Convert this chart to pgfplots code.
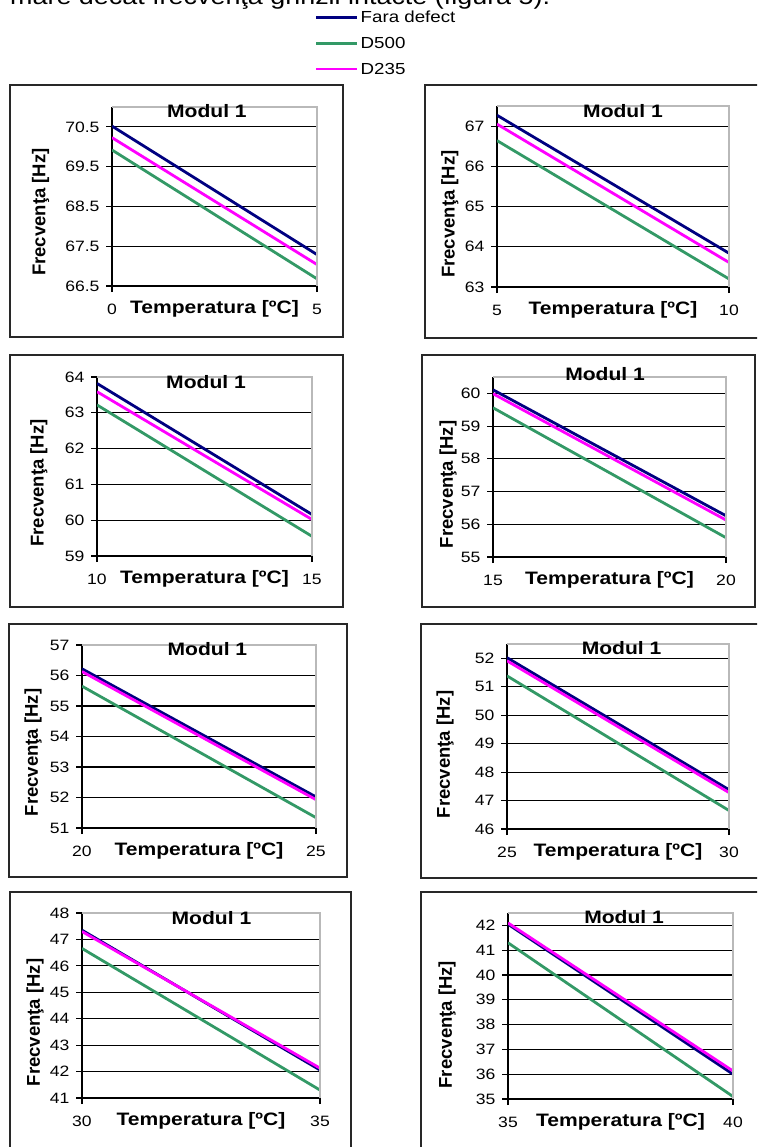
\documentclass[border=0pt]{standalone}
\usepackage{fontspec}
\setmainfont{Liberation Sans}[FakeStretch=1.17]
\newfontfamily\vfont{Liberation Sans}
\usepackage{pgfplots}
\pgfplotsset{compat=1.18}
\definecolor{navyc}{RGB}{0,0,128}
\definecolor{greenc}{RGB}{51,153,102}
\definecolor{magc}{RGB}{255,0,255}
\definecolor{boxc}{RGB}{40,40,40}
\newcommand{\tickfont}{\fontsize{15}{15}\selectfont}
\newcommand{\lblfont}{\bfseries\fontsize{18}{18}\selectfont}
\pgfplotsset{
  modul/.style={
    scale only axis,
    axis lines*=left,
    axis line style={black, line width=1.2pt},
    ymajorgrids,
    grid style={black, line width=1.1pt},
    tick align=outside,
    major tick length=6pt,
    tick style={black, line width=1.1pt},
    tick label style={font=\tickfont, black},
    /pgf/number format/assume math mode=true,
    yticklabel style={xshift=-3pt},
    xticklabel style={anchor=center, yshift=-17pt},
    xlabel={Temperatura [ºC]},
    xlabel style={at={(axis description cs:0.5,0)}, anchor=center, yshift=-23pt, font=\lblfont},
    ylabel={Frecvenţa [Hz]},
    every axis y label/.append style={anchor=center, font=\vfont\bfseries\fontsize{18.5}{18.5}\selectfont},
    title={Modul 1},
    every axis title/.append style={anchor=center, font=\lblfont},
    every axis plot/.append style={line width=2.8pt},
    after end axis/.code={\draw[gray!55, line width=1.2pt] (rel axis cs:0,1) -- (rel axis cs:1,1) -- (rel axis cs:1,0);},
  },
  pos/.style n args={4}{at={(#1pt,-#2pt)}, anchor=south west, width=#3pt, height=#4pt},
}
\begin{document}
\begin{tikzpicture}[x=1pt,y=1pt]
\useasboundingbox (0,0) rectangle (757,-1147);
\clip (0,0) rectangle (757,-1147);
\node[anchor=base west, inner sep=0pt, font=\fontsize{23}{23}\selectfont] at (10,-5) {mare decât frecvenţa grinzii intacte (figura 5).};

% panel boxes
\draw[boxc, line width=1.5pt] (10,-85) rectangle (343,-337);
\draw[boxc, line width=1.5pt] (760,-85) -- (425,-85) -- (425,-338) -- (760,-338);
\draw[boxc, line width=1.5pt] (10,-355) rectangle (343,-607);
\draw[boxc, line width=1.5pt] (422,-355) rectangle (755,-607);
\draw[boxc, line width=1.5pt] (9,-624) rectangle (347,-877);
\draw[boxc, line width=1.5pt] (760,-624) -- (421,-624) -- (421,-878) -- (760,-878);
\draw[boxc, line width=1.5pt] (351,-1160) -- (351,-892) -- (10,-892) -- (10,-1160);
\draw[boxc, line width=1.5pt] (760,-892) -- (421,-892) -- (421,-1160);

% P1
\begin{axis}[modul, pos={112}{286}{205}{179},
  xmin=0, xmax=5, xtick={0,5},
  ymin=66.5, ymax=71, ytick={66.5,67.5,68.5,69.5,70.5},
  ylabel style={at={(axis description cs:-0.348,0.413)}},
  title style={at={(axis description cs:0.463,0.944)}},
  legend style={at={(axis description cs:0.976,1.559)}, anchor=north west, draw=none, fill=none,
    font=\fontsize{16}{16}\selectfont, row sep=9pt, cells={anchor=west}},
  legend image code/.code={\draw[#1, line width=2.4pt] (0pt,0pt) -- (41pt,0pt);},
]
\addplot[navyc] coordinates {(0,70.52) (5,67.29)};
\addlegendentry{Fara defect}
\addplot[greenc] coordinates {(0,69.92) (5,66.68)};
\addlegendentry{D500}
\addplot[magc] coordinates {(0,70.23) (5,67.04)};
\addlegendentry{D235}
\end{axis}

% P2
\begin{axis}[modul, pos={497}{287}{232}{181},
  xmin=5, xmax=10, xtick={5,10},
  ymin=63, ymax=67.5, ytick={63,64,65,66,67},
  ylabel style={at={(axis description cs:-0.203,0.403)}},
  title style={at={(axis description cs:0.543,0.939)}},
]
\addplot[navyc] coordinates {(5,67.27) (10,63.84)};
\addplot[greenc] coordinates {(5,66.64) (10,63.20)};
\addplot[magc] coordinates {(5,67.05) (10,63.61)};
\end{axis}

% P3
\begin{axis}[modul, pos={97}{556}{215}{179},
  xmin=10, xmax=15, xtick={10,15},
  ymin=59, ymax=64, ytick={59,60,61,62,63,64},
  ylabel style={at={(axis description cs:-0.270,0.408)}},
  title style={at={(axis description cs:0.507,0.939)}},
]
\addplot[navyc] coordinates {(10,63.82) (15,60.16)};
\addplot[greenc] coordinates {(10,63.22) (15,59.55)};
\addplot[magc] coordinates {(10,63.59) (15,60.02)};
\end{axis}

% P4
\begin{axis}[modul, pos={493}{557}{233}{180},
  xmin=15, xmax=20, xtick={15,20},
  ymin=55, ymax=60.5, ytick={55,56,57,58,59,60},
  ylabel style={at={(axis description cs:-0.193,0.403)}},
  title style={at={(axis description cs:0.481,0.983)}},
]
\addplot[navyc] coordinates {(15,60.11) (20,56.26)};
\addplot[greenc] coordinates {(15,59.56) (20,55.59)};
\addplot[magc] coordinates {(15,59.99) (20,56.13)};
\end{axis}

% P5
\begin{axis}[modul, pos={82}{828}{234}{183},
  xmin=20, xmax=25, xtick={20,25},
  ymin=51, ymax=57, ytick={51,52,53,54,55,56,57},
  ylabel style={at={(axis description cs:-0.209,0.413)}},
  title style={at={(axis description cs:0.536,0.945)}},
]
\addplot[navyc] coordinates {(20,56.22) (25,52.02)};
\addplot[greenc] coordinates {(20,55.65) (25,51.34)};
\addplot[magc] coordinates {(20,56.13) (25,51.93)};
\end{axis}

% P6
\begin{axis}[modul, pos={507}{829}{222}{185},
  xmin=25, xmax=30, xtick={25,30},
  ymin=46, ymax=52.5, ytick={46,47,48,49,50,51,52},
  ylabel style={at={(axis description cs:-0.279,0.403)}},
  title style={at={(axis description cs:0.516,0.946)}},
]
\addplot[navyc] coordinates {(25,52.02) (30,47.38)};
\addplot[greenc] coordinates {(25,51.38) (30,46.65)};
\addplot[magc] coordinates {(25,51.91) (30,47.28)};
\end{axis}

% P7
\begin{axis}[modul, pos={82}{1098}{238}{185},
  xmin=30, xmax=35, xtick={30,35},
  ymin=41, ymax=48, ytick={41,42,43,44,45,46,47,48},
  ylabel style={at={(axis description cs:-0.197,0.408)}},
  title style={at={(axis description cs:0.544,0.941)}},
]
\addplot[navyc] coordinates {(30,47.35) (35,42.06)};
\addplot[greenc] coordinates {(30,46.66) (35,41.30)};
\addplot[magc] coordinates {(30,47.30) (35,42.13)};
\end{axis}

% P8
\begin{axis}[modul, pos={508}{1099}{225}{186},
  xmin=35, xmax=40, xtick={35,40},
  ymin=35, ymax=42.5, ytick={35,36,37,38,39,40,41,42},
  ylabel style={at={(axis description cs:-0.271,0.400)}},
  title style={at={(axis description cs:0.516,0.946)}},
]
\addplot[navyc] coordinates {(35,42.05) (40,36.00)};
\addplot[greenc] coordinates {(35,41.30) (40,35.10)};
\addplot[magc] coordinates {(35,42.10) (40,36.13)};
\end{axis}
\end{tikzpicture}
\end{document}
